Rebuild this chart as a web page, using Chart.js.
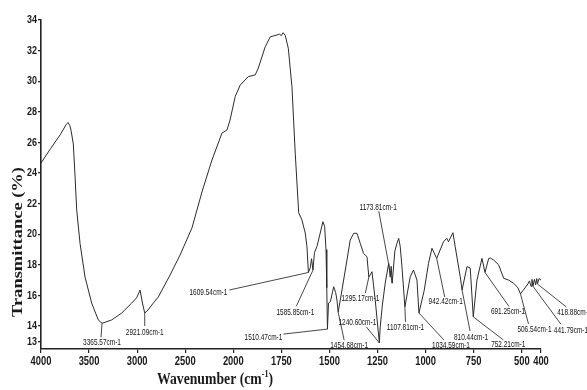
<!DOCTYPE html>
<html>
<head>
<meta charset="utf-8">
<title>FTIR spectrum</title>
<script src="https://cdn.jsdelivr.net/npm/chart.js@4.4.1/dist/chart.umd.min.js"></script>
<style>
  html, body { margin: 0; padding: 0; background: #fff; }
  canvas { display: block; }
</style>
</head>
<body>
<canvas id="ftir-chart" width="587" height="390"></canvas>
<script>
// Spectrum: wavenumber (cm-1) and transmittance (%)
const waveNumbers = [
  4000, 3900, 3800, 3740, 3719, 3700, 3688, 3664, 3646, 3629, 3594, 3542, 3473, 3404, 3365.57,
  3265, 3161, 3057, 3005, 2970, 2945, 2921.09, 2887, 2832, 2780, 2658, 2554, 2430, 2326, 2222,
  2118, 2066, 2034, 1990, 1964, 1922, 1886, 1870, 1834, 1808, 1773, 1761, 1750, 1741, 1730,
  1714, 1695, 1678, 1660, 1643, 1626, 1617, 1609.54, 1600, 1593, 1585.85, 1578, 1565, 1548, 1534,
  1525, 1518, 1514, 1510.47, 1505, 1495, 1478, 1468, 1461, 1454.68, 1435, 1409, 1392, 1374, 1357,
  1340, 1323, 1305, 1295.17, 1279, 1272, 1262, 1240.6, 1236, 1225, 1210, 1192, 1184, 1179, 1173.81,
  1160, 1149, 1140, 1132, 1123, 1107.81, 1080, 1063, 1045, 1034.59, 1007, 985, 967, 942.42, 907,
  890, 881, 858, 846, 820, 810.44, 785, 768, 752.21, 733, 707, 691.25, 672, 663, 646,
  620, 594, 568, 542, 520, 506.54, 495, 480, 468, 460, 452, 447, 441.79, 434, 428,
  422, 418.88, 410, 400
];
const transmittance = [
  24.65, 25.6, 26.5, 27.15, 27.3, 27.1, 26.8, 25.9, 23.8, 21.6, 19.4, 17.2, 15.5, 14.4, 14.18,
  14.4, 14.85, 15.5, 15.85, 16.35, 15.5, 14.85, 15.05, 15.5, 15.9, 17.33, 18.64, 20.41, 22.76, 24.85,
  26.61, 26.81, 27.46, 29.0, 29.75, 30.3, 30.41, 30.86, 32.25, 32.9, 33.02, 33.08, 32.98, 33.17, 33.0,
  32.15, 29.64, 25.3, 21.4, 20.93, 20.08, 19.18, 17.5, 17.8, 18.4, 17.65, 18.8, 19.2, 20.08, 20.82,
  20.5, 19.0, 16.5, 13.8, 15.5, 15.6, 16.57, 16.2, 15.7, 14.9, 16.35, 18.31, 19.62, 20.06, 20.06,
  19.41, 18.75, 18.53, 17.2, 17.55, 16.81, 15.7, 12.9, 13.95, 15.37, 16.81, 18.1, 17.2, 17.9, 16.8,
  18.9, 19.41, 19.73, 19.2, 17.88, 15.25, 17.22, 17.66, 17.0, 14.85, 16.35, 18.1, 19.08, 18.42, 19.51,
  19.73, 19.51, 20.1, 19.18, 17.22, 16.35, 17.88, 17.79, 14.6, 17.0, 18.42, 17.5, 18.42, 18.44, 18.31,
  17.99, 17.12, 17.0, 16.79, 16.5, 16.1, 16.3, 16.55, 16.75, 16.95, 16.6, 17.05, 16.6, 17.05, 16.7,
  17.1, 16.75, 17.1, 17.0
];

// Axis ticks
const xTickValues = [4000, 3500, 3000, 2500, 2000, 1750, 1500, 1250, 1000, 750, 500, 400];
const yTickValues = [13, 14, 16, 18, 20, 22, 24, 26, 28, 30, 32, 34];

// Marked peaks
const peakWaves = [3365.57, 2921.09, 1609.54, 1585.85, 1510.47, 1454.68, 1295.17, 1240.6, 1173.81,
  1107.81, 1034.59, 942.42, 810.44, 752.21, 691.25, 506.54, 441.79, 418.88];
const peakLabels = ['3365.57cm-1', '2921.09cm-1', '1609.54cm-1', '1585.85cm-1', '1510.47cm-1',
  '1454.68cm-1', '1295.17cm-1', '1240.60cm-1', '1173.81cm-1', '1107.81cm-1', '1034.59cm-1',
  '942.42cm-1', '810.44cm-1', '752.21cm-1', '691.25cm-1', '506.54cm-1', '441.79cm-1', '418.88cm-1'];

// Label placement in pixels relative to the peak: [labelDx, labelDy, leaderDx, leaderDy]
const labelOffsets = [
  [0, 19, -1, 14], [0, 19, 0, 13], [-100, 20.5, -79, 17.5], [-17.6, 42, -16.6, 36],
  [-64, 8, -44, 5], [11, 33, 6, 28], [-8.5, 21, -3.5, 16], [-22, -20, -13, -16],
  [-14, -76, -13.4, -72], [0.6, 21, 0.6, 15], [32, 32, 25, 27], [9, 43.6, 8, 38.6],
  [9, 47, 8, 41], [35, 28, 30, 23], [23, 39.5, 24, 34], [14, 36, 8, 30],
  [38, 44, 28, 38], [37, 29, 29, 23]
];

// The spectrometer doubles the scale below 2000 cm-1
function toAxis(w) {
  return w >= 2000 ? 4000 - w : 2000 + 2 * (2000 - w);
}

const sansFont = "'Liberation Sans', Arial, sans-serif";
const serifFont = "'Liberation Serif', 'DejaVu Serif', serif";
const inkColor = '#1a1a1a';

// draw text squeezed horizontally (the scanned print uses a narrow face)
function narrowText(ctx, text, x, y, align, squeeze) {
  ctx.save();
  ctx.translate(x, y);
  ctx.scale(squeeze, 1);
  ctx.textAlign = align;
  ctx.fillText(text, 0, 0);
  ctx.restore();
}

// Tick labels, placed with the chart's own scales
const tickLabels = {
  id: 'tickLabels',
  afterDraw(chart) {
    const ctx = chart.ctx;
    const xScale = chart.scales.x;
    const yScale = chart.scales.y;
    ctx.save();
    ctx.fillStyle = inkColor;
    ctx.textBaseline = 'middle';
    ctx.font = 'bold 12.5px ' + sansFont;
    xTickValues.forEach(function(w) {
      narrowText(ctx, String(w), xScale.getPixelForValue(toAxis(w)), xScale.top + 13, 'center', 0.75);
    });
    ctx.font = 'bold 11.5px ' + sansFont;
    yTickValues.forEach(function(v) {
      narrowText(ctx, String(v), yScale.right - 4, yScale.getPixelForValue(v), 'right', 0.78);
    });
    ctx.restore();
  }
};

// Peak labels with leader lines
const peakAnnotations = {
  id: 'peakAnnotations',
  afterDatasetsDraw(chart) {
    const ctx = chart.ctx;
    const xScale = chart.scales.x;
    const yScale = chart.scales.y;
    ctx.save();
    ctx.strokeStyle = '#333';
    ctx.lineWidth = 0.9;
    ctx.fillStyle = '#111';
    ctx.font = '9px ' + sansFont;
    ctx.textBaseline = 'middle';
    peakWaves.forEach(function(w, i) {
      const t = transmittance[waveNumbers.indexOf(w)];
      const px = xScale.getPixelForValue(toAxis(w));
      const py = yScale.getPixelForValue(t);
      const off = labelOffsets[i];
      ctx.beginPath();
      ctx.moveTo(px, py);
      ctx.lineTo(px + off[2], py + off[3]);
      ctx.stroke();
      narrowText(ctx, peakLabels[i], px + off[0], py + off[1], 'center', 0.72);
    });
    ctx.restore();
  }
};

// Axis titles
const axisTitles = {
  id: 'axisTitles',
  afterDraw(chart) {
    const ctx = chart.ctx;
    ctx.save();
    ctx.fillStyle = inkColor;
    ctx.textBaseline = 'middle';

    // y title
    ctx.font = 'bold 17px ' + serifFont;
    const yText = 'Transmittance (%)';
    const yWidth = ctx.measureText(yText).width;
    ctx.save();
    ctx.translate(18, 242);
    ctx.rotate(-Math.PI / 2);
    ctx.scale(150 / yWidth, 0.85);
    ctx.textAlign = 'center';
    ctx.fillText(yText, 0, 0);
    ctx.restore();

    // x title with superscript
    const mainFont = 'bold 17px ' + serifFont;
    const supFont = 'bold 10px ' + serifFont;
    ctx.font = mainFont;
    const partA = 'Wavenumber (cm';
    const wA = ctx.measureText(partA).width;
    const wC = ctx.measureText(')').width;
    ctx.font = supFont;
    const wB = ctx.measureText('-1').width;
    const total = wA + wB + wC;
    ctx.save();
    ctx.translate(215, 380);
    ctx.scale(116 / total, 1);
    ctx.textAlign = 'left';
    let cx = -total / 2;
    ctx.font = mainFont;
    ctx.fillText(partA, cx, 0);
    cx += wA;
    ctx.font = supFont;
    ctx.fillText('-1', cx, -6);
    cx += wB;
    ctx.font = mainFont;
    ctx.fillText(')', cx, 0);
    ctx.restore();

    ctx.restore();
  }
};

const ctx = document.getElementById('ftir-chart');

new Chart(ctx, {
  type: 'line',
  data: {
    datasets: [{
      data: waveNumbers.map(function(w, i) { return { x: toAxis(w), y: transmittance[i] }; }),
      borderColor: '#2b2b2b',
      borderWidth: 1,
      pointRadius: 0,
      tension: 0,
      fill: false
    }]
  },
  options: {
    responsive: false,
    animation: false,
    events: [],
    layout: { padding: { top: 20, right: 46, bottom: 0, left: 0 } },
    plugins: {
      legend: { display: false },
      tooltip: { enabled: false }
    },
    scales: {
      x: {
        type: 'linear',
        min: 0,
        max: toAxis(400),
        afterBuildTicks: function(scale) {
          scale.ticks = xTickValues.map(function(w) { return { value: toAxis(w) }; });
        },
        afterFit: function(scale) { scale.height = 41; },
        grid: { drawOnChartArea: false, drawTicks: true, tickLength: 4, color: '#222', lineWidth: 1.2 },
        border: { color: '#222', width: 1.6 },
        ticks: { display: false }
      },
      y: {
        min: 12.5,
        max: 34,
        afterBuildTicks: function(scale) {
          scale.ticks = yTickValues.map(function(v) { return { value: v }; });
        },
        afterFit: function(scale) { scale.width = 41; },
        grid: { drawOnChartArea: false, drawTicks: true, tickLength: 3, color: '#222', lineWidth: 1.2 },
        border: { color: '#222', width: 1.6 },
        ticks: { display: false }
      }
    }
  },
  plugins: [peakAnnotations, tickLabels, axisTitles]
});
</script>
</body>
</html>
